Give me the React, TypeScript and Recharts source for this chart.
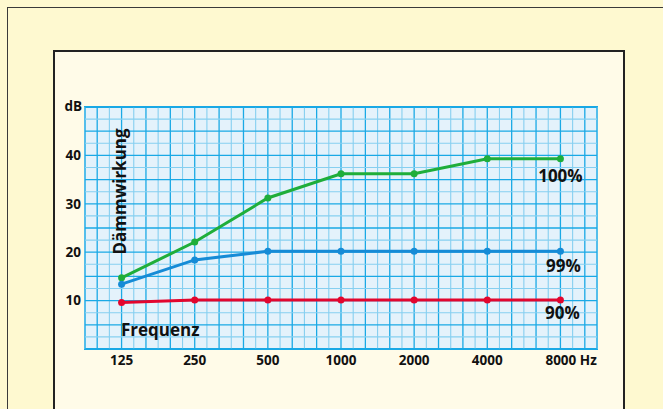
import React from 'react';
import { LineChart, Line, XAxis, YAxis, ReferenceArea, ReferenceLine } from 'recharts';

const freqLabels = ['125', '250', '500', '1000', '2000', '4000', '8000'];
const damping100 = [14.7, 22.1, 31.2, 36.2, 36.2, 39.3, 39.3];
const damping99 = [13.4, 18.4, 20.2, 20.2, 20.2, 20.2, 20.2];
const damping90 = [9.6, 10.1, 10.1, 10.1, 10.1, 10.1, 10.1];
const yTicks = [10, 20, 30, 40];

const data = freqLabels.map((f, i) => ({
  idx: i,
  freq: f,
  p100: damping100[i],
  p99: damping99[i],
  p90: damping90[i],
}));

const FONT = '"Open Sans", "DejaVu Sans", sans-serif';
const GREEN = '#1fae3a';
const BLUE = '#168bd6';
const RED = '#e2062e';

// fine grid: 6 columns per frequency band, 2.5 dB per row
const gridX = Array.from({ length: 43 }, (_, i) => i);
const gridY = Array.from({ length: 21 }, (_, i) => i);
const STRONG = '#1aa9e5';
const LIGHT = '#86cff0';

function FreqTick(props: any) {
  const { x, y, payload } = props;
  const label = freqLabels[payload.value];
  const last = payload.value === freqLabels.length - 1;
  return (
    <text
      x={last ? x - 15 : x}
      y={y}
      dy="0.71em"
      textAnchor={last ? 'start' : 'middle'}
      fontFamily={FONT}
      fontWeight={700}
      fontSize={13.5}
      fill="#111"
    >
      {last ? `${label} Hz` : label}
    </text>
  );
}

const endLabel = (text: string, dx: number, dy: number) => (props: any) => {
  if (props.index !== freqLabels.length - 1) return null;
  return (
    <text
      x={props.x + dx}
      y={props.y + dy}
      textAnchor="middle"
      fontFamily={FONT}
      fontWeight={700}
      fontSize={17}
      fill="#111"
    >
      {text}
    </text>
  );
};

export default function App() {
  return (
    <div style={{ position: 'fixed', left: 0, top: 0, width: 663, height: 409, background: '#fef9d0', overflow: 'hidden' }}>
      <div style={{ position: 'absolute', left: 7, top: 7, width: 700, height: 500, border: '1.5px solid #3a3a3a' }} />
      <div style={{ position: 'absolute', left: 53, top: 50, width: 568, height: 500, border: '2px solid #222', background: '#fffbe8' }} />
      <div style={{ position: 'absolute', left: 0, top: 0 }}>
        <LineChart width={663} height={409} data={data} margin={{ top: 107, right: 66, left: 55, bottom: 30 }}>
          <XAxis
            xAxisId="data"
            type="number"
            dataKey="idx"
            domain={[-0.5, 6.5]}
            ticks={freqLabels.map((_, i) => i)}
            interval={0}
            axisLine={false}
            tickLine={false}
            tickSize={0}
            tickMargin={6}
            height={30}
            tick={<FreqTick />}
          />
          <YAxis
            yAxisId="data"
            type="number"
            domain={[0, 50]}
            ticks={yTicks}
            axisLine={false}
            tickLine={false}
            tickSize={0}
            tickMargin={4}
            width={30}
            tick={{ fontFamily: FONT, fontWeight: 700, fontSize: 13.5, fill: '#111' }}
          />
          <ReferenceArea xAxisId="data" yAxisId="data" x1={-0.5} x2={6.5} y1={0} y2={50} fill="#e4f2fb" fillOpacity={1} stroke="none" />
          {gridX.map((i) => (
            <ReferenceLine
              key={'vx' + i}
              xAxisId="data"
              yAxisId="data"
              x={-0.5 + i / 6}
              stroke={i % 2 === 1 ? STRONG : LIGHT}
              strokeWidth={i % 2 === 1 ? 1.3 : 1.1}
            />
          ))}
          {gridY.map((i) => (
            <ReferenceLine
              key={'hy' + i}
              xAxisId="data"
              yAxisId="data"
              y={i * 2.5}
              stroke={i % 2 === 0 ? STRONG : LIGHT}
              strokeWidth={i % 2 === 0 ? 1.3 : 1.1}
            />
          ))}
          <ReferenceArea xAxisId="data" yAxisId="data" x1={-0.5} x2={6.5} y1={0} y2={50} fill="none" stroke={STRONG} strokeWidth={2} />
          <Line
            xAxisId="data"
            yAxisId="data"
            dataKey="p100"
            stroke={GREEN}
            strokeWidth={3}
            dot={{ r: 3.5, fill: GREEN, stroke: GREEN, strokeWidth: 0 }}
            label={endLabel('100%', 0, 23)}
            isAnimationActive={false}
          />
          <Line
            xAxisId="data"
            yAxisId="data"
            dataKey="p99"
            stroke={BLUE}
            strokeWidth={3}
            dot={{ r: 3.5, fill: BLUE, stroke: BLUE, strokeWidth: 0 }}
            label={endLabel('99%', 3, 21)}
            isAnimationActive={false}
          />
          <Line
            xAxisId="data"
            yAxisId="data"
            dataKey="p90"
            stroke={RED}
            strokeWidth={3}
            dot={{ r: 3.5, fill: RED, stroke: RED, strokeWidth: 0 }}
            label={endLabel('90%', 2, 19)}
            isAnimationActive={false}
          />
        </LineChart>
      </div>
      <svg width={663} height={409} style={{ position: 'absolute', left: 0, top: 0, pointerEvents: 'none' }}>
        <g fontFamily={FONT} fontWeight={700} fill="#111">
          <text x={82} y={111} textAnchor="end" fontSize={13.5}>dB</text>
          <text transform="translate(119,191.5) rotate(-90)" textAnchor="middle" dominantBaseline="central" fontSize={17}>
            Dämmwirkung
          </text>
          <text x={121} y={336} fontSize={17}>Frequenz</text>
        </g>
      </svg>
    </div>
  );
}
